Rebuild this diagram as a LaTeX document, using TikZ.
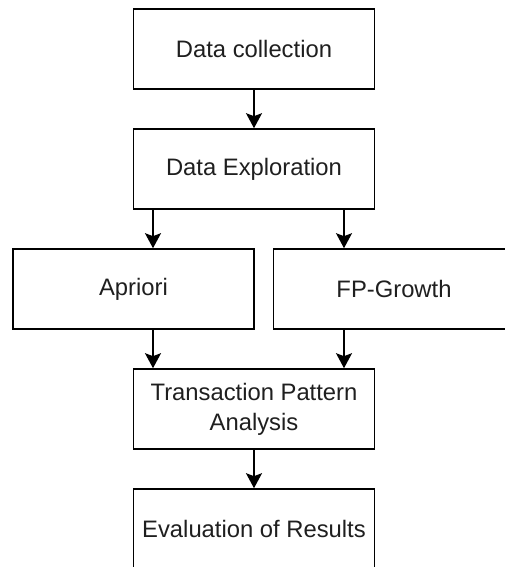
\documentclass[tikz,border=0pt]{standalone}
\usepackage{fontspec}
\setmainfont{Liberation Sans}
\usetikzlibrary{arrows.meta}
\begin{document}
\begin{tikzpicture}[x=1pt,y=-1pt,
  stepbox/.style={draw=black, line width=1.6pt, fill=white,
    minimum width=241pt, minimum height=80pt, inner sep=0pt,
    align=center, font=\fontsize{23.8}{30}\selectfont, text=black!88},
  arr/.style={line width=1.6pt, -{Stealth[length=15pt,width=16pt,inset=3pt]}}]
  \useasboundingbox (0,0) rectangle (505,567);
  \fill[white] (0,0) rectangle (505,567);
  \clip (0,0) rectangle (505,567);

  \node[stepbox] (collect) at (254,49)    {Data collection};
  \node[stepbox] (explore) at (254,169)   {Data Exploration};
  \node[stepbox] (apriori) at (133.5,289) {Apriori};
  \node[stepbox] (fpg)     at (394,289)   {FP-Growth};
  \node[stepbox] (tpa)     at (254,409)   {Transaction Pattern\\Analysis};
  \node[stepbox] (eval)    at (254,529)   {Evaluation of Results};

  % columns of the branch arrows
  \coordinate (lcol) at (153,0);
  \coordinate (rcol) at (344,0);

  \draw[arr] (collect.south) -- (explore.north);
  \draw[arr] (explore.south -| lcol) -- (apriori.north -| lcol);
  \draw[arr] (explore.south -| rcol) -- (fpg.north -| rcol);
  \draw[arr] (apriori.south -| lcol) -- (tpa.north -| lcol);
  \draw[arr] (fpg.south -| rcol) -- (tpa.north -| rcol);
  \draw[arr] (tpa.south) -- (eval.north);
\end{tikzpicture}
\end{document}
